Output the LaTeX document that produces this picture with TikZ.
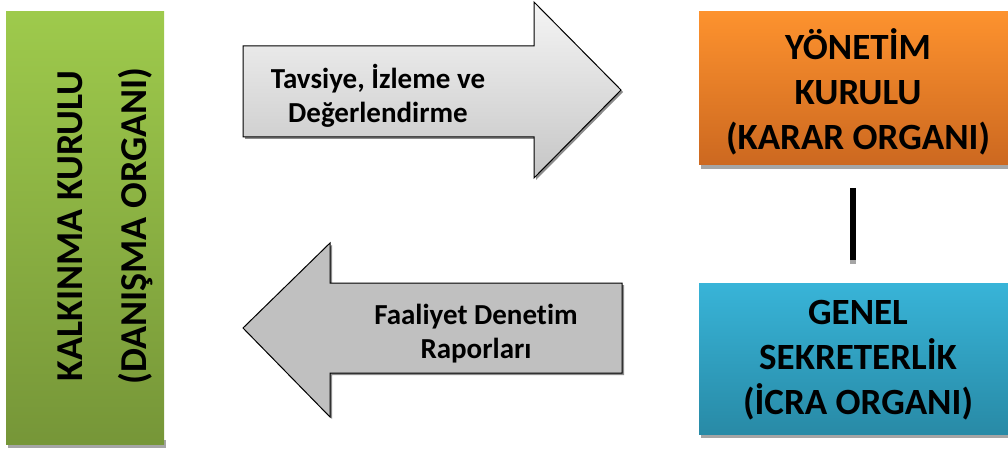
\documentclass[tikz,border=0pt]{standalone}
\usepackage{fontspec}
\setmainfont{Carlito}[Ligatures=NoCommon]
\definecolor{gtop}{RGB}{158,202,76}
\definecolor{gbot}{RGB}{118,150,56}
\definecolor{otop}{RGB}{253,146,46}
\definecolor{obot}{RGB}{204,104,32}
\definecolor{btop}{RGB}{56,180,216}
\definecolor{bbot}{RGB}{40,138,166}
\definecolor{shad}{RGB}{165,165,165}
\definecolor{arrgray}{RGB}{192,192,192}
\tikzset{
  box/.style={rectangle, inner sep=0pt, font=\bfseries\fontsize{37}{45}\selectfont, align=center},
  boxshadow/.style={fill=shad, draw=none},
  arrowtext/.style={font=\bfseries\fontsize{29}{34}\selectfont, align=center},
  arrowshape/.style={draw=black, line width=1pt, line join=miter},
  arrowshadow/.style={fill=black!45, draw=none}
}
\begin{document}
\begin{tikzpicture}[x=1pt,y=1pt]
\useasboundingbox (0,0) rectangle (1008,450);

% green box
\fill[boxshadow] (8,2) rectangle (166,10);
\node[box, minimum width=158pt, minimum height=432pt, top color=gtop, bottom color=gbot] (kk) at (85,222) {};
\node[font=\bfseries\fontsize{38}{64}\selectfont, align=center, rotate=90] (kkt) at (105,224) {KALKINMA KURULU\\(DANIŞMA ORGANI)};

% orange box
\fill[boxshadow] (701,281) rectangle (1008,289);
\node[box, minimum width=309pt, minimum height=153pt, top color=otop, bottom color=obot] (yk) at (853.5,361.5) {};
\node[box] (ykt) at (858,358) {YÖNETİM\\KURULU\\(KARAR ORGANI)};

% blue box
\fill[boxshadow] (701,12) rectangle (1008,20);
\node[box, minimum width=309pt, minimum height=151pt, top color=btop, bottom color=bbot] (gs) at (853.5,91.5) {};
\node[box] (gst) at (858,90) {GENEL\\SEKRETERLİK\\(İCRA ORGANI)};

% connector
\coordinate (la) at (853,262);
\coordinate (lb) at (853,190);
\coordinate (lc) at (853,186);
\draw[line width=6pt, shad] (lb) -- (lc);
\draw[line width=6pt, black] (la) -- (lb);

% right arrow
\fill[arrowshadow] (245,402) -- (536,402) -- (536,446) -- (623,358) -- (536,270) -- (536,311) -- (245,311) -- cycle;
\path[arrowshape, top color=gray!8, bottom color=gray!45]
  (243,404) -- (534,404) -- (534,448) -- (621,360) -- (534,272) -- (534,313) -- (243,313) -- cycle;
\node[arrowtext] (ra) at (378,354) {Tavsiye, İzleme ve\\Değerlendirme};

% left arrow
\fill[arrowshadow] (245,120) -- (332,205) -- (332,165) -- (624,165) -- (624,75) -- (332,75) -- (332,31) -- cycle;
\path[arrowshape, fill=arrgray]
  (243,122) -- (330,207) -- (330,167) -- (622,167) -- (622,77) -- (330,77) -- (330,33) -- cycle;
\node[arrowtext] (la2) at (476,116) {Faaliyet Denetim\\Raporları};
\end{tikzpicture}
\end{document}
